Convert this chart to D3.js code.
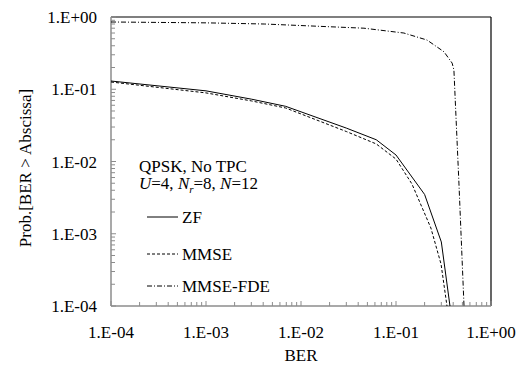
<!DOCTYPE html>
<html>
<head>
<meta charset="utf-8">
</head>
<body style="margin:0">
<script src="https://d3js.org/d3.v7.min.js"></script>
<script>
  // tick values and labels
  const tickVals = [1e-4, 1e-3, 1e-2, 1e-1, 1];
  const xTickLabels = ['1.E-04', '1.E-03', '1.E-02', '1.E-01', '1.E+00'];
  const yTickLabels = ['1.E-04', '1.E-03', '1.E-02', '1.E-01', '1.E+00'];

  // series (BER, Prob[BER > abscissa])
  const berZF  = [1e-4, 1e-3, 3e-3, 0.0069, 0.03, 0.062, 0.10, 0.20, 0.30, 0.37];
  const probZF = [0.130, 0.095, 0.073, 0.058, 0.029, 0.020, 0.0123, 0.0035, 7.7e-4, 1e-4];

  const berMMSE  = [1e-4, 1e-3, 3e-3, 0.0069, 0.03, 0.062, 0.10, 0.147, 0.233, 0.298, 0.344];
  const probMMSE = [0.126, 0.089, 0.069, 0.055, 0.026, 0.0175, 0.0108, 0.0049, 0.0012, 3.8e-4, 1e-4];

  const berFDE  = [1e-4, 1e-3, 0.0041, 0.046, 0.121, 0.212, 0.32, 0.39, 0.407, 0.46, 0.52];
  const probFDE = [0.853, 0.83, 0.80, 0.70, 0.60, 0.48, 0.33, 0.23, 0.185, 0.0049, 1e-4];

  const seriesNames = ['ZF', 'MMSE', 'MMSE-FDE'];

  const W = 528, H = 367;
  const pl = 111, pr = 491, pt = 17, pb = 306;
  const FONT = '"Liberation Serif"';
  const FS = 17;

  const svg = d3.select('body').append('svg')
    .attr('width', W).attr('height', H);

  const x = d3.scaleLog().domain([1e-4, 1]).range([pl, pr]);
  const y = d3.scaleLog().domain([1e-4, 1]).range([pb, pt]);

  // minor tick values (2..9 in each decade)
  const minor = [];
  for (let e = -4; e < 0; e++) for (let k = 2; k <= 9; k++) minor.push(k * Math.pow(10, e));

  const grey = '#8c8c8c';

  const txt = sel => sel.style('font-family', FONT).attr('font-size', FS);

  // frame: top and right black
  svg.append('line').attr('x1', pl).attr('x2', pr).attr('y1', pt).attr('y2', pt)
    .attr('stroke', '#000').attr('stroke-width', 1.2);
  svg.append('line').attr('x1', pr).attr('x2', pr).attr('y1', pt).attr('y2', pb)
    .attr('stroke', '#000').attr('stroke-width', 1.2);

  // left axis
  const yAxis = svg.append('g');
  yAxis.selectAll('.mn').data(minor).join('line').attr('class', 'mn')
    .attr('x1', pl).attr('x2', pl + 4)
    .attr('y1', d => y(d)).attr('y2', d => y(d))
    .attr('stroke', grey);
  yAxis.selectAll('.mj').data(tickVals).join('line').attr('class', 'mj')
    .attr('x1', pl).attr('x2', pl + 5)
    .attr('y1', d => y(d)).attr('y2', d => y(d))
    .attr('stroke', grey);
  yAxis.append('line').attr('x1', pl).attr('x2', pl).attr('y1', pt).attr('y2', pb)
    .attr('stroke', grey).attr('stroke-width', 1.5);
  yAxis.selectAll('text').data(tickVals).join('text')
    .attr('x', 97).attr('y', d => y(d) + 6)
    .attr('text-anchor', 'end')
    .call(txt)
    .text((d, i) => yTickLabels[i]);

  // bottom axis
  const xAxis = svg.append('g');
  xAxis.selectAll('.mn').data(minor).join('line').attr('class', 'mn')
    .attr('x1', d => x(d)).attr('x2', d => x(d))
    .attr('y1', pb).attr('y2', pb - 4)
    .attr('stroke', grey);
  xAxis.selectAll('.mj').data(tickVals).join('line').attr('class', 'mj')
    .attr('x1', d => x(d)).attr('x2', d => x(d))
    .attr('y1', pb).attr('y2', pb - 5)
    .attr('stroke', grey);
  xAxis.append('line').attr('x1', pl).attr('x2', pr).attr('y1', pb).attr('y2', pb)
    .attr('stroke', grey).attr('stroke-width', 1.5);
  xAxis.selectAll('text').data(tickVals).join('text')
    .attr('x', d => x(d)).attr('y', 338)
    .attr('text-anchor', 'middle')
    .call(txt)
    .text((d, i) => xTickLabels[i]);

  // axis titles
  svg.append('text').attr('x', 301).attr('y', 361)
    .attr('text-anchor', 'middle').call(txt)
    .text('BER');
  svg.append('text')
    .attr('transform', 'translate(31,168) rotate(-90)')
    .attr('text-anchor', 'middle').call(txt)
    .text('Prob.[BER > Abscissa]');

  // curves
  const line = d3.line().x(d => x(d[0])).y(d => y(d[1]));
  const dashes = [null, '3,2', '5,2,1,2'];
  const series = [
    d3.zip(berZF, probZF),
    d3.zip(berMMSE, probMMSE),
    d3.zip(berFDE, probFDE)
  ];
  series.forEach((s, i) => {
    svg.append('path').attr('d', line(s))
      .attr('fill', 'none').attr('stroke', '#000').attr('stroke-width', 1)
      .attr('stroke-dasharray', dashes[i]);
  });

  // annotation
  svg.append('text').attr('x', 139).attr('y', 172).call(txt)
    .text('QPSK, No TPC');
  const t2 = svg.append('text').attr('x', 139).attr('y', 189).call(txt);
  t2.append('tspan').style('font-style', 'italic').text('U');
  t2.append('tspan').text('=4, ');
  t2.append('tspan').style('font-style', 'italic').text('N');
  t2.append('tspan').style('font-style', 'italic').attr('font-size', 11).attr('dy', 4).text('r');
  t2.append('tspan').attr('dy', -4).text('=8, ');
  t2.append('tspan').style('font-style', 'italic').text('N');
  t2.append('tspan').text('=12');

  // legend
  const legY = [217, 254, 286];
  seriesNames.forEach((name, i) => {
    svg.append('line').attr('x1', 147).attr('x2', 178)
      .attr('y1', legY[i]).attr('y2', legY[i])
      .attr('stroke', '#000').attr('stroke-width', 1)
      .attr('stroke-dasharray', dashes[i]);
    svg.append('text').attr('x', 182).attr('y', legY[i] + 6)
      .call(txt)
      .text(name);
  });
</script>
</body>
</html>
